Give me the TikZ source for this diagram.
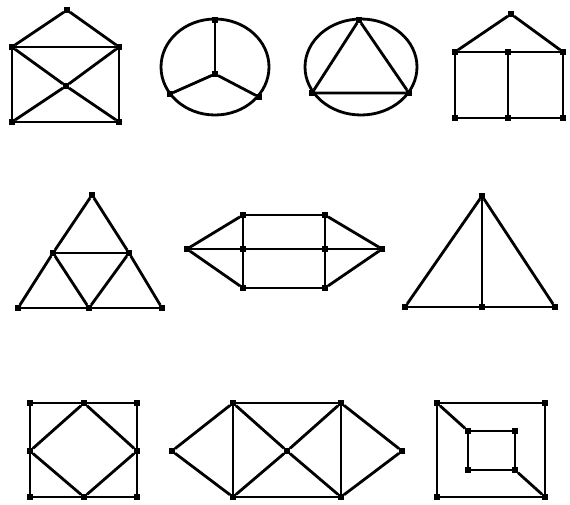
\documentclass[tikz,border=0pt]{standalone}
\usetikzlibrary{positioning}
\tikzset{
  vtx/.style   = {draw=black,fill=black,rectangle,inner sep=0pt,
                  minimum size=3pt},
  gline/.style = {line width=1.6pt,color=black},
}
\begin{document}
\begin{tikzpicture}[x=0.02cm,y=-0.02cm]
  \useasboundingbox (0,0) rectangle (570,504);
  % row 1
  \foreach \n/\x/\y in {t/67/10, ul/12/47, ur/119/47, c/66/86, bl/12/122, br/119/122}{
    \node[vtx] (a\n) at (\x,\y) {};
  }
  \foreach \u/\v in {t/ul, t/ur, ul/ur, ul/bl, ur/br, bl/br, ul/c, c/br, ur/c, c/bl}{
    \draw[gline] (a\u) -- (a\v);
  }
  \draw[gline] (215,67) ellipse (54 and 48);
  \foreach \n/\x/\y in {t/215/20, c/215/74, l/170/94, r/259/97}{
    \node[vtx] (b\n) at (\x,\y) {};
  }
  \foreach \v in {t,l,r}{
    \draw[gline] (bc) -- (b\v);
  }
  \draw[gline] (361,67) ellipse (56 and 48);
  \foreach \n/\x/\y in {t/359/20, l/312/93, r/409/93}{
    \node[vtx] (c\n) at (\x,\y) {};
  }
  \draw[gline] (ct) -- (cl) -- (cr) -- (ct);
  \foreach \n/\x/\y in {t/511/14, ul/455/52, um/508/52, ur/563/52,
                        bl/455/118, bm/508/118, br/563/118}{
    \node[vtx] (d\n) at (\x,\y) {};
  }
  \foreach \u/\v in {t/ul, t/ur, ul/um, um/ur, ul/bl, um/bm, ur/br, bl/bm, bm/br}{
    \draw[gline] (d\u) -- (d\v);
  }
  % row 2
  \foreach \n/\x/\y in {t/92/195, ml/53/253, mr/129/253,
                        bl/18/308, bm/89/308, br/162/308}{
    \node[vtx] (e\n) at (\x,\y) {};
  }
  \foreach \u/\v in {t/ml, ml/bl, t/mr, mr/br, ml/mr, bl/bm, bm/br, ml/bm, mr/bm}{
    \draw[gline] (e\u) -- (e\v);
  }
  \foreach \n/\x/\y in {l/187/249, tl/243/215, ml/243/249, bl/243/288,
                        tr/325/215, mr/325/249, br/325/288, r/382/249}{
    \node[vtx] (f\n) at (\x,\y) {};
  }
  \foreach \u/\v in {l/tl, l/ml, l/bl, tl/ml, ml/bl, tl/tr, ml/mr, bl/br,
                     tr/mr, mr/br, tr/r, mr/r, br/r}{
    \draw[gline] (f\u) -- (f\v);
  }
  \foreach \n/\x/\y in {t/482/196, bl/405/307, bm/482/307, br/555/307}{
    \node[vtx] (g\n) at (\x,\y) {};
  }
  \foreach \u/\v in {t/bl, t/br, t/bm, bl/bm, bm/br}{
    \draw[gline] (g\u) -- (g\v);
  }
  % row 3
  \foreach \n/\x/\y in {tl/30/403, tm/84/403, tr/137/403, ml/30/451,
                        mr/137/451, bl/30/497, bm/84/497, br/137/497}{
    \node[vtx] (h\n) at (\x,\y) {};
  }
  \foreach \u/\v in {tl/tm, tm/tr, tr/mr, mr/br, br/bm, bm/bl, bl/ml, ml/tl,
                     tm/mr, mr/bm, bm/ml, ml/tm}{
    \draw[gline] (h\u) -- (h\v);
  }
  \foreach \n/\x/\y in {l/172/451, tl/233/403, bl/233/497, c/287/451,
                        tr/341/403, br/341/497, r/402/451}{
    \node[vtx] (k\n) at (\x,\y) {};
  }
  \foreach \u/\v in {l/tl, l/bl, tl/bl, tl/tr, bl/br, tl/c, c/br, tr/c, c/bl,
                     tr/br, tr/r, br/r}{
    \draw[gline] (k\u) -- (k\v);
  }
  \foreach \n/\x/\y in {otl/437/403, otr/545/403, obl/437/497, obr/545/497,
                        itl/468/431, itr/515/431, ibl/468/470, ibr/515/470}{
    \node[vtx] (m\n) at (\x,\y) {};
  }
  \foreach \u/\v in {otl/otr, otr/obr, obr/obl, obl/otl,
                     itl/itr, itr/ibr, ibr/ibl, ibl/itl, otl/itl, ibr/obr}{
    \draw[gline] (m\u) -- (m\v);
  }
\end{tikzpicture}
\end{document}
